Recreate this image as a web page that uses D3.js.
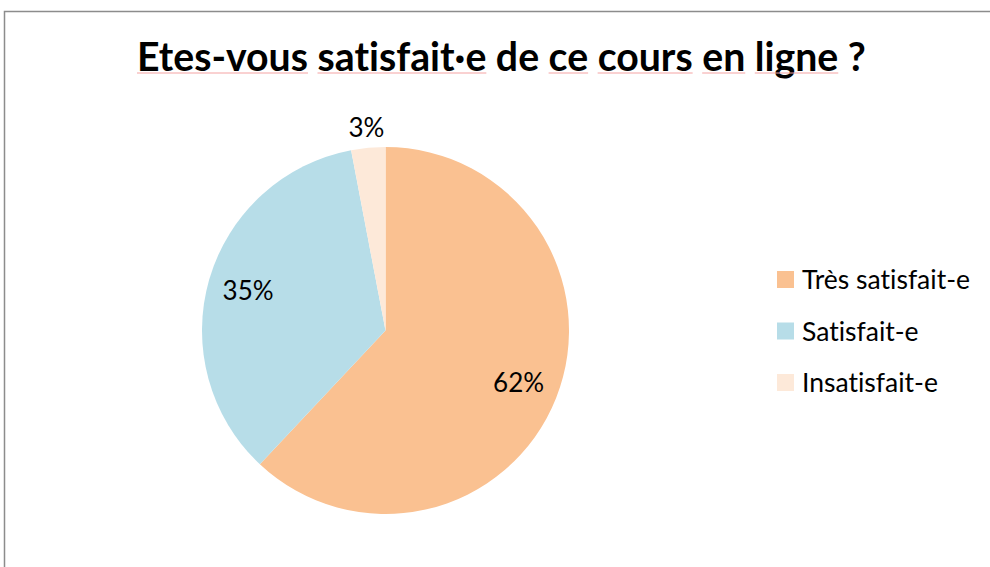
<!DOCTYPE html>
<html lang="fr">
<head>
<meta charset="UTF-8">
<title>Satisfaction</title>
<style>
    body { margin: 0; background: #fff; }
    svg { display: block; }
    text { font-family: Lato, "Open Sans", sans-serif; fill: #000; font-variant-ligatures: none; }
</style>
</head>
<body>
<script src="https://cdnjs.cloudflare.com/ajax/libs/d3/7.8.2/d3.min.js"></script>
<script>

    // données
    const categories = ["Très satisfait-e", "Satisfait-e", "Insatisfait-e"];
    const valeurs = [62, 35, 3];
    const couleurs = ["#fac191", "#b7dde8", "#fde9d9"];
    const titre = ["Etes-vous", "satisfait·e", "de", "ce", "cours", "en", "ligne", "?"];
    const souligne = [true, true, false, true, true, true, true, false];

    const w = 990;
    const h = 567;

    const svg = d3.select("body")
        .append("svg")
        .attr("width", w)
        .attr("height", h);

    // cadre du graphique
    svg.append("rect")
        .attr("x", 4.5)
        .attr("y", 11.5)
        .attr("width", w + 20)
        .attr("height", h + 20)
        .attr("fill", "none")
        .attr("stroke", "#8c8c8c")
        .attr("stroke-width", 1.5);

    // titre, ajusté à la largeur
    const titreEl = svg.append("text")
        .attr("y", 71)
        .attr("font-weight", 700)
        .attr("font-size", 34);
    titreEl.selectAll("tspan")
        .data(titre)
        .enter()
        .append("tspan")
        .text((d, i) => (i > 0 ? " " : "") + d);

    const largeurVoulue = 729;
    let larg = titreEl.node().getComputedTextLength();
    titreEl.attr("font-size", 34 * largeurVoulue / larg);
    titreEl.attr("x", 137);

    // soulignement du correcteur
    const noeud = titreEl.node();
    let pos = 0;
    titre.forEach((mot, i) => {
        const debut = pos + (i > 0 ? 1 : 0);
        const fin = debut + mot.length - 1;
        if (souligne[i]) {
            const xa = noeud.getStartPositionOfChar(debut).x;
            const xb = noeud.getEndPositionOfChar(fin).x;
            svg.append("line")
                .attr("x1", xa).attr("x2", xb)
                .attr("y1", 73).attr("y2", 73)
                .attr("stroke", "#f4a3a3")
                .attr("stroke-width", 1);
        }
        pos = fin + 1;
    });

    // camembert
    const cx = 385.5, cy = 330.5, r = 183.5;

    const pie = d3.pie().sort(null).value(d => d);
    const arcs = pie(valeurs);
    const arc = d3.arc().innerRadius(0).outerRadius(r);

    const g = svg.append("g").attr("transform", `translate(${cx},${cy})`);

    g.selectAll("path")
        .data(arcs)
        .enter()
        .append("path")
        .attr("d", arc)
        .attr("fill", (d, i) => couleurs[i]);

    const arcInt = d3.arc().innerRadius(r * 0.78).outerRadius(r * 0.78);
    const arcExt = d3.arc().innerRadius(r * 1.11).outerRadius(r * 1.11);

    g.selectAll("text.etiq")
        .data(arcs)
        .enter()
        .append("text")
        .attr("class", "etiq")
        .attr("transform", d => {
            const c = (d.value < 5 ? arcExt : arcInt).centroid(d);
            return `translate(${c[0]},${c[1]})`;
        })
        .attr("text-anchor", "middle")
        .attr("dy", "0.35em")
        .attr("font-size", 26)
        .text(d => d.value + "%");

    // légende
    const leg = svg.append("g").attr("transform", "translate(777,271)");
    const ligne = leg.selectAll("g")
        .data(categories)
        .enter()
        .append("g")
        .attr("transform", (d, i) => `translate(0,${i * 51.5})`);
    ligne.append("rect")
        .attr("width", 17)
        .attr("height", 17)
        .attr("fill", (d, i) => couleurs[i]);
    ligne.append("text")
        .attr("x", 25)
        .attr("y", 18)
        .attr("font-size", 26.5)
        .text(d => d);

</script>
</body>
</html>
